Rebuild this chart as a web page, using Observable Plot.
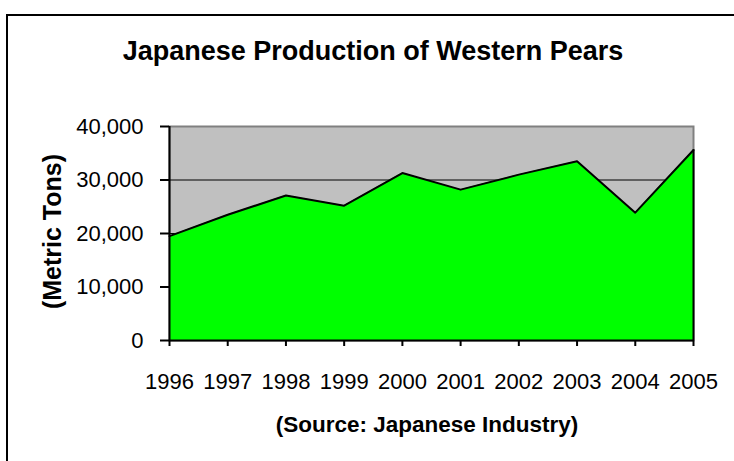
<!DOCTYPE html>
<html>
<head>
<meta charset="utf-8">
<script src="https://cdn.jsdelivr.net/npm/d3@7"></script>
<script src="https://cdn.jsdelivr.net/npm/@observablehq/plot@0.6"></script>
<style>
  html, body { margin: 0; padding: 0; background: #fff; }
  #wrap { position: relative; width: 734px; height: 461px; overflow: hidden; font-family: "Liberation Sans", Arial, sans-serif; }
  #frame { position: absolute; left: 6px; top: 14px; width: 800px; height: 500px; border: 2px solid #000; box-sizing: border-box; }
  #title { position: absolute; left: 0; top: 0; width: 746px; height: 100px; line-height: 102px; text-align: center; font-size: 27px; font-weight: bold; color: #000; }
  #chart { position: absolute; left: 0; top: 100px; }
  #caption { position: absolute; left: 0; top: 400px; width: 854px; height: 50px; line-height: 50px; text-align: center; font-size: 22.5px; font-weight: bold; color: #000; }
</style>
</head>
<body>
<div id="wrap">
  <div id="frame"></div>
  <div id="title">Japanese Production of Western Pears</div>
  <div id="chart"></div>
  <div id="caption">(Source: Japanese Industry)</div>
</div>
<script>
const years = [1996, 1997, 1998, 1999, 2000, 2001, 2002, 2003, 2004, 2005];
const production = [19500, 23500, 27100, 25200, 31300, 28200, 31000, 33500, 23900, 35600];
const yTicks = [0, 10000, 20000, 30000, 40000];
const gridLines = [10000, 20000, 30000];
const yLabel = "(Metric Tons)";

const data = years.map((year, i) => ({year, value: production[i]}));
const last = data[data.length - 1];

const chart = Plot.plot({
  width: 734,
  height: 300,
  marginLeft: 169,
  marginRight: 41,
  marginTop: 26,
  marginBottom: 60,
  style: {fontFamily: '"Liberation Sans", Arial, sans-serif', fontSize: "22px", color: "#000", background: "transparent"},
  x: {type: "linear", domain: [1996, 2005]},
  y: {domain: [0, 40000]},
  marks: [
    Plot.frame({fill: "#C0C0C0", stroke: "#808080", strokeWidth: 2}),
    Plot.ruleY(gridLines, {stroke: "#000", strokeWidth: 1}),
    Plot.areaY(data, {x: "year", y: "value", fill: "#00FF00", curve: "linear"}),
    Plot.lineY(data, {x: "year", y: "value", stroke: "#000", strokeWidth: 2}),
    Plot.ruleX([last], {x: "year", y1: 0, y2: "value", stroke: "#000", strokeWidth: 2}),
    Plot.ruleY([0], {stroke: "#000", strokeWidth: 2}),
    Plot.ruleX([years[0]], {stroke: "#000", strokeWidth: 2}),
    Plot.axisX({ticks: years, tickFormat: d => String(d), tickSize: 6, tickPadding: 27, strokeWidth: 2, fontSize: 22, label: null}),
    Plot.axisY({ticks: yTicks, tickFormat: d3.format(","), tickSize: 9, tickPadding: 17, strokeWidth: 2, fontSize: 22, label: null}),
    Plot.text([yLabel], {frameAnchor: "left", dx: -117, dy: -2, rotate: -90, text: d => d, fontSize: 25, fontWeight: "bold", textAnchor: "middle", lineAnchor: "middle"})
  ]
});
document.getElementById("chart").appendChild(chart);
</script>
</body>
</html>
